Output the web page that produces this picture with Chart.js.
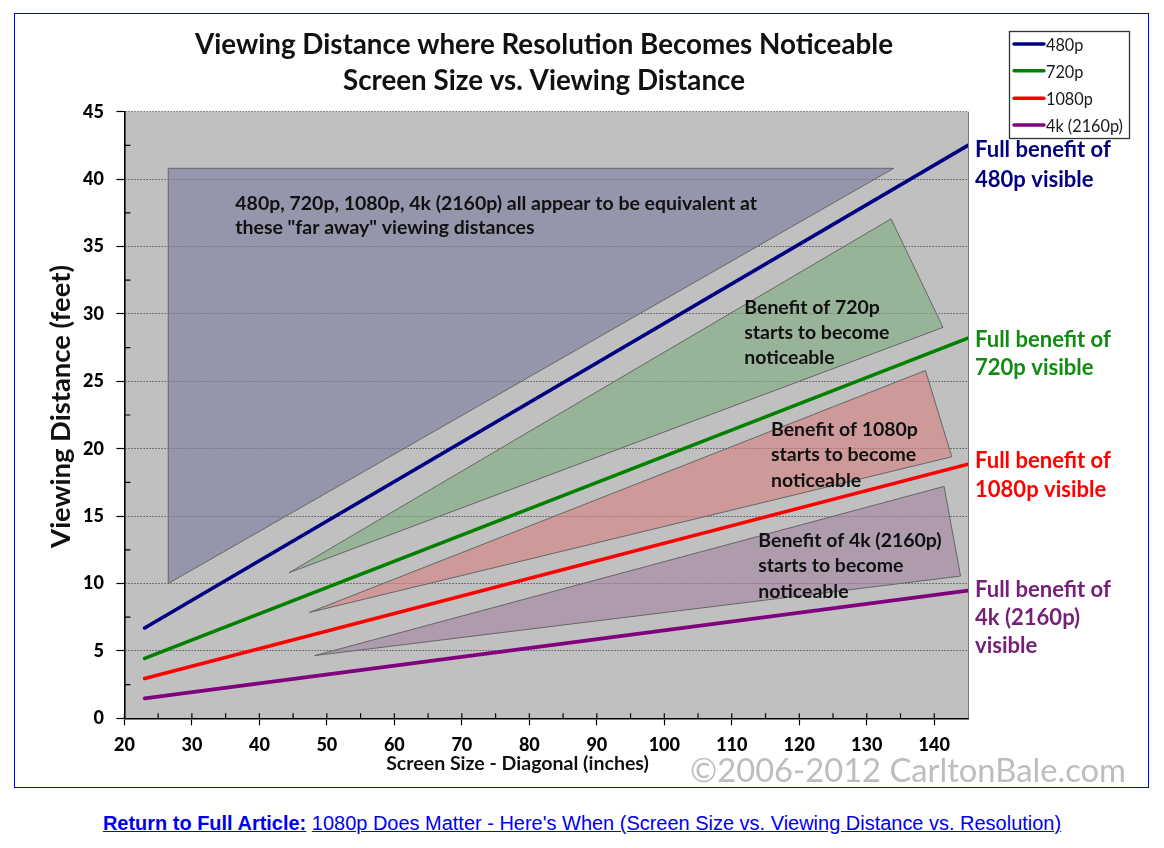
<!DOCTYPE html>
<html>
<head>
<meta charset="utf-8">
<script src="https://cdn.jsdelivr.net/npm/chart.js@4.4.1/dist/chart.umd.min.js"></script>
<style>
html,body{margin:0;padding:0;background:#fff;}
#frame{position:absolute;left:14px;top:13px;width:1133px;height:773px;border:1px solid #0000ff;background:#fff;}
#chart{display:block;}
#link{position:absolute;left:0;width:1164px;top:812px;text-align:center;font-family:"Liberation Sans",Arial,sans-serif;font-size:18px;line-height:22px;color:#0000ee;white-space:nowrap;}
#link span.u{text-decoration:underline;}
</style>
</head>
<body>
<div id="frame"><canvas id="chart" width="1133" height="773"></canvas></div>
<div id="link"><span id="linkInner"><span class="u"><b>Return to Full Article:</b></span> <span class="u">1080p Does Matter - Here's When (Screen Size vs. Viewing Distance vs. Resolution)</span></span></div>
<script>
// ---------- data ----------
const xTicks = [20,30,40,50,60,70,80,90,100,110,120,130,140];
const xMinorTicks = [25,35,45,55,65,75,85,95,105,115,125,135];
const yTicks = [0,5,10,15,20,25,30,35,40,45];
const yMinorTicks = [2.5,7.5,12.5,17.5,22.5,27.5,32.5,37.5,42.5];

const seriesLabels = ['480p','720p','1080p','4k (2160p)'];
const screenSize = [23, 145];
const dist480  = [6.7, 42.5];
const dist720  = [4.45, 28.2];
const dist1080 = [2.95, 18.85];
const dist4k   = [1.48, 9.47];

const zoneFarX  = [26.5, 134.0, 26.5, 26.5];
const zoneFarY  = [40.8, 40.8, 10.0, 40.8];
const zone720X  = [44.4, 133.6, 141.3, 44.4];
const zone720Y  = [10.8, 37.05, 29.0, 10.8];
const zone1080X = [47.4, 138.7, 142.6, 47.4];
const zone1080Y = [7.85, 25.8, 19.4, 7.85];
const zone4kX   = [48.2, 141.45, 143.9, 48.2];
const zone4kY   = [4.65, 17.2, 10.55, 4.65];

const titleLines = ['Viewing Distance where Resolution Becomes Noticeable','Screen Size vs. Viewing Distance'];
const xTitle = 'Screen Size - Diagonal (inches)';
const yTitle = 'Viewing Distance (feet)';
const watermark = '\u00A92006-2012 CarltonBale.com';
const farText = ['480p, 720p, 1080p, 4k (2160p) all appear to be equivalent at','these "far away" viewing distances'];
const text720 = ['Benefit of 720p','starts to become','noticeable'];
const text1080 = ['Benefit of 1080p','starts to become','noticeable'];
const text4k = ['Benefit of 4k (2160p)','starts to become','noticeable'];
const full480 = ['Full benefit of','480p visible'];
const full720 = ['Full benefit of','720p visible'];
const full1080 = ['Full benefit of','1080p visible'];
const full4k = ['Full benefit of','4k (2160p)','visible'];

// ---------- helpers ----------
const pts = (xs, ys) => xs.map((x,i)=>({x:x, y:ys[i]}));
const FAM = 'Lato, "Open Sans", sans-serif';
function fit(ctx, text, w, weight){ ctx.font = weight+' 100px '+FAM; return 100*w/ctx.measureText(text).width; }

const lineColors = ['#000080','#008000','#ff0000','#800080'];
const seriesData = [dist480, dist720, dist1080, dist4k];

const datasets = [];
seriesData.forEach((d,i)=>{
  datasets.push({label:seriesLabels[i], data:pts(screenSize,d), showLine:true, borderColor:lineColors[i],
    backgroundColor:lineColors[i], borderWidth:3.6, pointRadius:0, borderCapStyle:'round', fill:false, order:0, inLegend:true});
});
const zones = [
  [zoneFarX, zoneFarY, 'rgba(122,122,160,0.62)'],
  [zone720X, zone720Y, 'rgba(125,172,125,0.6)'],
  [zone1080X, zone1080Y, 'rgba(214,127,127,0.6)'],
  [zone4kX, zone4kY, 'rgba(162,130,162,0.6)']
];
zones.forEach(z=>{
  datasets.push({label:'', data:pts(z[0],z[1]), showLine:true, borderColor:'#666', borderWidth:1,
    backgroundColor:z[2], pointRadius:0, fill:'shape', order:1, tension:0, inLegend:false});
});

const decor = {
  id:'decor',
  beforeDraw(chart){
    const {ctx, chartArea:a} = chart;
    ctx.save();
    ctx.fillStyle='#fff'; ctx.fillRect(0,0,chart.width,chart.height);
    ctx.fillStyle='#c0c0c0'; ctx.fillRect(a.left,a.top,a.right-a.left,a.bottom-a.top);
    ctx.restore();
  },
  afterDraw(chart){
    const {ctx, chartArea:a, scales} = chart;
    const xs = scales.x, ys = scales.y;
    ctx.save();
    // right border
    ctx.strokeStyle='#7a7a7a'; ctx.lineWidth=1;
    ctx.beginPath(); ctx.moveTo(a.right+0.5,a.top); ctx.lineTo(a.right+0.5,a.bottom); ctx.stroke();
    // inside tick marks
    ctx.strokeStyle='#000'; ctx.lineWidth=1.2;
    ctx.beginPath();
    xTicks.concat(xMinorTicks).forEach(v=>{ const p=xs.getPixelForValue(v); ctx.moveTo(p,a.bottom); ctx.lineTo(p,a.bottom-5); });
    yMinorTicks.forEach(v=>{ const p=ys.getPixelForValue(v); ctx.moveTo(a.left,p); ctx.lineTo(a.left+6,p); });
    ctx.stroke();

    // title
    ctx.fillStyle='#111'; ctx.textAlign='center'; ctx.textBaseline='alphabetic';
    let s = fit(ctx, titleLines[0], 698, 'bold');
    ctx.font='bold '+s+'px '+FAM;
    ctx.fillText(titleLines[0], 529, 40);
    ctx.fillText(titleLines[1], 529, 76);

    // axis titles
    s = fit(ctx, xTitle, 263, 'bold'); ctx.font='bold '+s+'px '+FAM;
    ctx.fillText(xTitle, 502.5, 756);
    s = fit(ctx, yTitle, 283, 'bold'); ctx.font='bold '+s+'px '+FAM;
    ctx.save(); ctx.translate(55, 392.5); ctx.rotate(-Math.PI/2); ctx.fillText(yTitle, 0, 0); ctx.restore();

    // watermark
    ctx.textAlign='left';
    s = fit(ctx, watermark, 436, 'normal'); ctx.font='normal '+s+'px '+FAM;
    ctx.fillStyle='#bdbdbd'; ctx.fillText(watermark, 675, 767.5);

    // inside texts
    s = fit(ctx, farText[0], 522, 'bold'); ctx.font='bold '+s+'px '+FAM; ctx.fillStyle='#111';
    const blocks = [[farText,220.3,196,24],[text720,729.3,300.3,24.8],[text1080,756,422,25.3],[text4k,743.3,533,25.3]];
    blocks.forEach(b=>b[0].forEach((t,i)=>ctx.fillText(t,b[1],b[2]+i*b[3])));

    // right labels
    s = fit(ctx, 'Full benefit of', 136, 'bold'); ctx.font='bold '+s+'px '+FAM;
    const rl = [[full480,lineColors[0],143.3,29.4],[full720,'#138a13',332.7,28.3],[full1080,lineColors[2],454.3,28.4],[full4k,'#741f78',582.7,28.2]];
    rl.forEach(b=>{ ctx.fillStyle=b[1]; b[0].forEach((t,i)=>ctx.fillText(t,960,b[2]+i*b[3])); });

    // legend
    const L = {x:994.5, y:17.5, w:120, h:107};
    ctx.fillStyle='#fff'; ctx.fillRect(L.x,L.y,L.w,L.h);
    ctx.strokeStyle='#333'; ctx.lineWidth=1.3; ctx.strokeRect(L.x,L.y,L.w,L.h);
    const items = chart.data.datasets.filter(d=>d.inLegend);
    const lineY = [30, 56.7, 84.3, 111];
    s = fit(ctx, items[3].label, 77, 'normal'); ctx.font='normal '+s+'px '+FAM;
    items.forEach((d,i)=>{
      ctx.strokeStyle=d.borderColor; ctx.lineWidth=3.4; ctx.lineCap='round';
      ctx.beginPath(); ctx.moveTo(999,lineY[i]); ctx.lineTo(1029,lineY[i]); ctx.stroke();
      ctx.fillStyle='#1a1a1a'; ctx.fillText(d.label, 1031, lineY[i]+7);
    });
    ctx.restore();
  }
};

const tickFont = {family:FAM, weight:'900', size:18};
new Chart(document.getElementById('chart'), {
  type:'scatter',
  data:{datasets:datasets},
  plugins:[decor],
  options:{
    responsive:false, animation:false, events:[],
    layout:{padding:{left:0, top:97.7, right:180, bottom:0}},
    plugins:{legend:{display:false}, tooltip:{enabled:false}, title:{display:false}},
    scales:{
      x:{type:'linear', min:20, max:145,
        afterBuildTicks:(sc)=>{ sc.ticks = xTicks.map(v=>({value:v})); },
        afterFit:(sc)=>{ sc.height = 68.7; },
        ticks:{font:tickFont, color:'#000', padding:9, maxRotation:0, autoSkip:false},
        grid:{display:true, drawOnChartArea:false, drawTicks:true, tickLength:7, tickColor:'#000', tickWidth:1.2},
        border:{display:true, color:'#000', width:1.6}
      },
      y:{type:'linear', min:0, max:45,
        afterBuildTicks:(sc)=>{ sc.ticks = yTicks.map(v=>({value:v})); },
        afterFit:(sc)=>{ sc.width = 109.4; },
        ticks:{font:tickFont, color:'#000', padding:12.4, autoSkip:false},
        grid:{display:true, drawOnChartArea:true, drawTicks:true, tickLength:8, tickColor:'#000', tickWidth:1.2, color:'#2a2a2a', lineWidth:1},
        border:{display:true, color:'#000', width:1.6, dash:[1,2]}
      }
    }
  }
});

// fit link text width to the reference
(function(){
  const el = document.getElementById('link'), inner = document.getElementById('linkInner');
  const w = inner.getBoundingClientRect().width;
  if (w > 0) el.style.fontSize = (18*959/w).toFixed(2)+'px';
})();
</script>
</body>
</html>
